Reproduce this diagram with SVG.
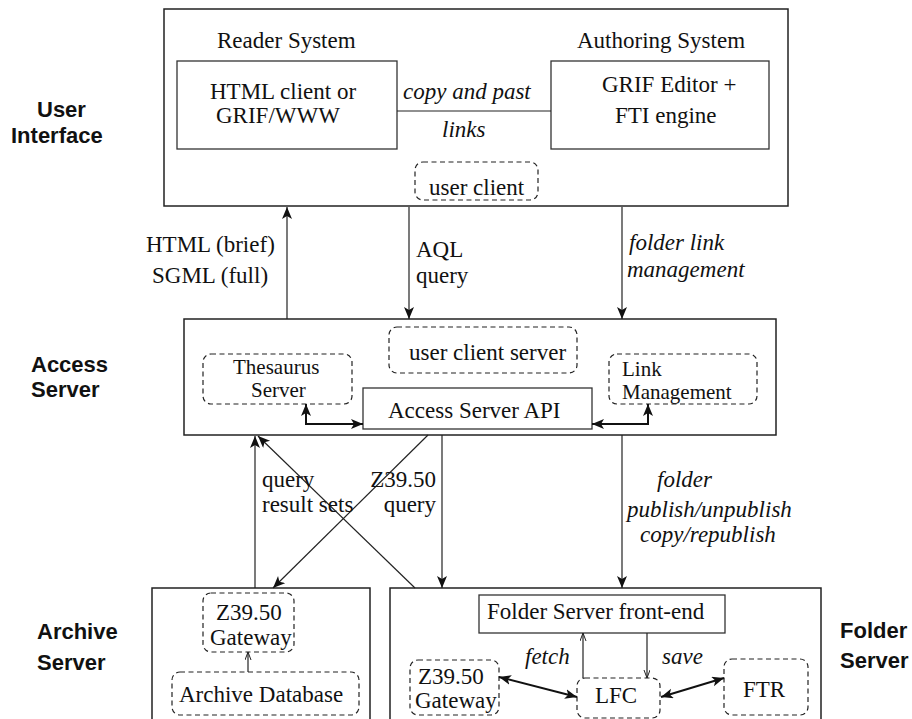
<svg xmlns="http://www.w3.org/2000/svg" width="912" height="719" viewBox="0 0 912 719">
  <style>
    .box { fill: none; stroke: #222; stroke-width: 1.5; }
    .inner { fill: #fff; stroke: #333; stroke-width: 1.3; }
    .dash { fill: none; stroke: #222; stroke-width: 1.2; stroke-dasharray: 5 3.5; }
    .t { font-family: "Liberation Serif", "Times New Roman", serif; font-size: 23px; fill: #111; }
    .sm { font-size: 21px; }
    .it { font-style: italic; }
    .lab { font-family: "Liberation Sans", Arial, sans-serif; font-size: 22px; font-weight: bold; fill: #111; }
    .ln { fill: none; stroke: #222; stroke-width: 1.2; }
    .bold { fill: none; stroke: #111; stroke-width: 2; }
  </style>
  <defs>
    <marker id="arr" markerUnits="userSpaceOnUse" markerWidth="14" markerHeight="12" refX="12" refY="5" orient="auto-start-reverse">
      <path d="M0,0 L12,5 L0,10 L3,5 z" fill="#111"/>
    </marker>
    <marker id="thin" markerUnits="userSpaceOnUse" markerWidth="10" markerHeight="8" refX="8" refY="3" orient="auto-start-reverse">
      <path d="M0,0 L8,3 L0,6" fill="none" stroke="#222" stroke-width="1"/>
    </marker>
  </defs>
  <rect width="912" height="719" fill="#fff"/>

  <!-- tier labels -->
  <g id="tier-labels">
    <text class="lab" x="37" y="117">User</text>
    <text class="lab" x="11" y="143">Interface</text>
    <text class="lab" x="31" y="372">Access</text>
    <text class="lab" x="31" y="397">Server</text>
    <text class="lab" x="37" y="639">Archive</text>
    <text class="lab" x="37" y="670">Server</text>
    <text class="lab" x="840" y="638">Folder</text>
    <text class="lab" x="840" y="668">Server</text>
  </g>

  <!-- user interface tier -->
  <g id="user-interface">
    <rect class="box" x="164" y="9" width="624" height="197"/>
    <text class="t" x="217" y="48">Reader System</text>
    <text class="t" x="577" y="48">Authoring System</text>
  </g>
  <g id="reader-client">
    <rect class="inner" x="177" y="61" width="220" height="88"/>
    <text class="t" x="210" y="99">HTML client or</text>
    <text class="t" x="216" y="123">GRIF/WWW</text>
  </g>
  <g id="authoring-editor">
    <rect class="inner" x="551" y="61" width="218" height="88"/>
    <text class="t" x="602" y="92">GRIF Editor +</text>
    <text class="t" x="615" y="123">FTI engine</text>
  </g>
  <g id="user-client">
    <rect class="dash" x="415" y="162" width="123" height="38" rx="8"/>
    <text class="t" x="429" y="195">user client</text>
  </g>

  <!-- access server tier -->
  <g id="access-server">
    <rect class="box" x="184" y="319" width="592" height="116"/>
  </g>
  <g id="user-client-server">
    <rect class="dash" x="389" y="327" width="188" height="46" rx="8"/>
    <text class="t" x="409" y="360">user client server</text>
  </g>
  <g id="thesaurus-server">
    <rect class="dash" x="203" y="354" width="149" height="50" rx="8"/>
    <text class="t sm" x="233" y="374">Thesaurus</text>
    <text class="t sm" x="251" y="397">Server</text>
  </g>
  <g id="link-management">
    <rect class="dash" x="609" y="354" width="148" height="50" rx="8"/>
    <text class="t sm" x="622" y="376">Link</text>
    <text class="t sm" x="622" y="399">Management</text>
  </g>
  <g id="access-api">
    <rect class="inner" x="363" y="388" width="229" height="41"/>
    <text class="t" x="388" y="418">Access Server API</text>
  </g>

  <!-- archive server tier -->
  <g id="archive-server">
    <path class="box" d="M152,722 V588 H370 V722"/>
  </g>
  <g id="archive-gateway">
    <rect class="dash" x="203" y="593" width="91" height="59" rx="8"/>
    <text class="t" x="216" y="620">Z39.50</text>
    <text class="t" x="210" y="645">Gateway</text>
  </g>
  <g id="archive-database">
    <rect class="dash" x="172" y="672" width="187" height="43" rx="8"/>
    <text class="t" x="179" y="702">Archive Database</text>
  </g>

  <!-- folder server tier -->
  <g id="folder-server">
    <path class="box" d="M390,722 V588 H821 V722"/>
  </g>
  <g id="folder-front-end">
    <rect class="inner" x="479" y="595" width="246" height="38"/>
    <text class="t" x="487" y="619">Folder Server front-end</text>
  </g>
  <g id="folder-gateway">
    <rect class="dash" x="410" y="660" width="89" height="55" rx="8"/>
    <text class="t" x="418" y="684">Z39.50</text>
    <text class="t" x="415" y="708">Gateway</text>
  </g>
  <g id="lfc">
    <rect class="dash" x="577" y="678" width="83" height="40" rx="8"/>
    <text class="t" x="595" y="703">LFC</text>
  </g>
  <g id="ftr">
    <rect class="dash" x="724" y="659" width="84" height="56" rx="8"/>
    <text class="t" x="743" y="697">FTR</text>
  </g>

  <!-- connectors -->
  <g id="connectors">
    <line class="ln" x1="397" y1="111" x2="551" y2="111"/>
    <line class="ln" x1="287" y1="319" x2="287" y2="207" marker-end="url(#arr)"/>
    <line class="ln" x1="409" y1="207" x2="409" y2="319" marker-end="url(#arr)"/>
    <line class="ln" x1="622" y1="207" x2="622" y2="319" marker-end="url(#arr)"/>
    <line class="ln" x1="255" y1="588" x2="255" y2="436" marker-end="url(#arr)"/>
    <line class="ln" x1="415" y1="588" x2="258" y2="436" marker-end="url(#arr)"/>
    <line class="ln" x1="428" y1="435" x2="273" y2="588" marker-end="url(#arr)"/>
    <line class="ln" x1="442" y1="435" x2="442" y2="588" marker-end="url(#arr)"/>
    <line class="ln" x1="622" y1="435" x2="622" y2="588" marker-end="url(#arr)"/>
    <polyline class="bold" points="306,404 306,424 363,424" marker-start="url(#arr)" marker-end="url(#arr)"/>
    <polyline class="bold" points="592,424 648,424 648,404" marker-start="url(#arr)" marker-end="url(#arr)"/>
    <line class="ln" x1="248" y1="672" x2="248" y2="652" marker-end="url(#thin)"/>
    <line class="ln" x1="583" y1="678" x2="583" y2="633" marker-end="url(#thin)"/>
    <line class="ln" x1="647" y1="633" x2="647" y2="678" marker-end="url(#thin)"/>
    <line class="bold" x1="499" y1="677" x2="577" y2="697" marker-start="url(#arr)" marker-end="url(#arr)"/>
    <line class="bold" x1="661" y1="697" x2="724" y2="678" marker-start="url(#arr)" marker-end="url(#arr)"/>
  </g>

  <!-- connector labels -->
  <g id="connector-labels">
    <text class="t it" x="403" y="99">copy and past</text>
    <text class="t it" x="442" y="137">links</text>
    <text class="t" x="146" y="252">HTML (brief)</text>
    <text class="t" x="152" y="283">SGML (full)</text>
    <text class="t" x="416" y="257">AQL</text>
    <text class="t" x="416" y="283">query</text>
    <text class="t it" x="629" y="250">folder link</text>
    <text class="t it" x="627" y="277">management</text>
    <text class="t" x="262" y="487">query</text>
    <text class="t" x="262" y="512">result sets</text>
    <text class="t" x="436" y="487" text-anchor="end">Z39.50</text>
    <text class="t" x="436" y="512" text-anchor="end">query</text>
    <text class="t it" x="657" y="487">folder</text>
    <text class="t it" x="627" y="517">publish/unpublish</text>
    <text class="t it" x="640" y="542">copy/republish</text>
    <text class="t it" x="525" y="664">fetch</text>
    <text class="t it" x="662" y="664">save</text>
  </g>
</svg>
